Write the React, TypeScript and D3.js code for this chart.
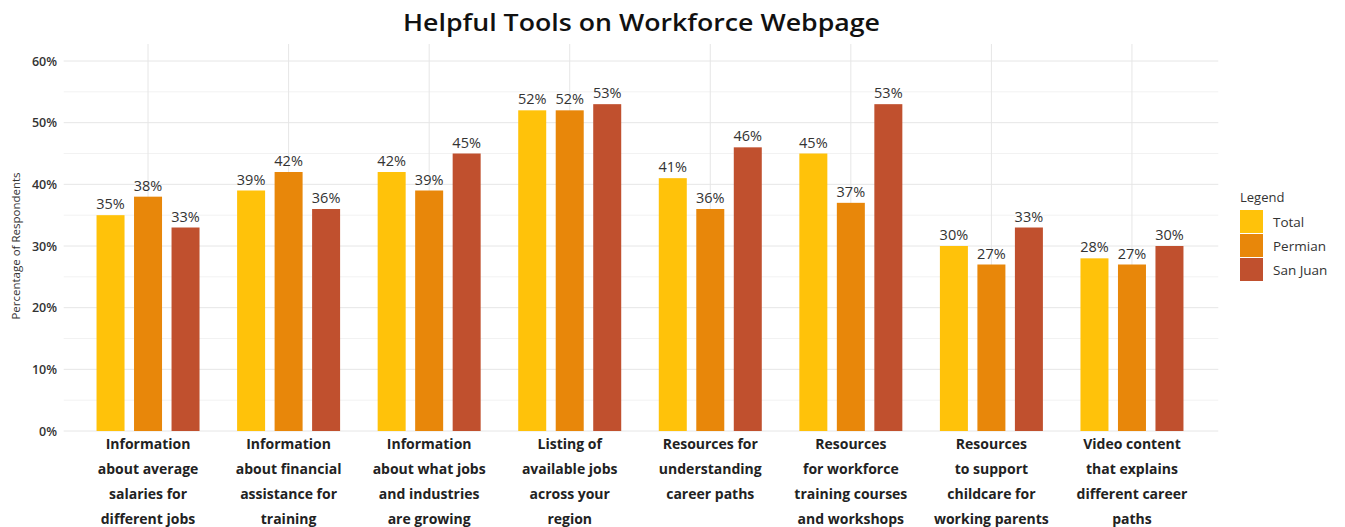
import React from "react";
import * as d3 from "d3";

const categories: string[][] = [
  ["Information", "about average", "salaries for", "different jobs"],
  ["Information", "about financial", "assistance for", "training"],
  ["Information", "about what jobs", "and industries", "are growing"],
  ["Listing of", "available jobs", "across your", "region"],
  ["Resources for", "understanding", "career paths"],
  ["Resources", "for workforce", "training courses", "and workshops"],
  ["Resources", "to support", "childcare for", "working parents"],
  ["Video content", "that explains", "different career", "paths"],
];
const seriesNames = ["Total", "Permian", "San Juan"];
const totalValues = [35, 39, 42, 52, 41, 45, 30, 28];
const permianValues = [38, 42, 39, 52, 36, 37, 27, 27];
const sanJuanValues = [33, 36, 45, 53, 46, 53, 33, 30];
const seriesColors = ["#FFC20A", "#E8870A", "#C0502E"];
const yTicks = [0, 10, 20, 30, 40, 50, 60];
const yMinor = [5, 15, 25, 35, 45, 55];

export default function App() {
  const W = 1345, H = 527;
  const left = 63.7, right = 1216.3, top = 44, bottom = 431;
  const series = [totalValues, permianValues, sanJuanValues];
  const idx = categories.map((_, i) => i);
  const x = d3.scaleLinear().domain([-0.6, categories.length - 0.4]).range([left, right]);
  const y = d3.scaleLinear().domain([0, 60]).range([bottom, 61]);
  const step = 37.5;
  const bw = 28;
  const font = "'Open Sans', 'DejaVu Sans', sans-serif";
  return (
    <svg width={W} height={H} style={{ position: "absolute", left: 0, top: 0, background: "#fff" }}>
      <text x={641.5} y={31} textAnchor="middle" fontFamily={font} fontWeight={600} fontSize={23} fill="#111"
        textLength={477} lengthAdjust="spacingAndGlyphs">
        Helpful Tools on Workforce Webpage
      </text>
      {yMinor.map((t) => (
        <line key={"m" + t} x1={left} x2={right + 2} y1={y(t)} y2={y(t)} stroke="#f2f2f2" strokeWidth={1} />
      ))}
      {yTicks.map((t) => (
        <line key={"g" + t} x1={left} x2={right + 2} y1={y(t)} y2={y(t)} stroke="#e6e6e6" strokeWidth={1} />
      ))}
      {idx.map((i) => (
        <line key={"v" + i} x1={x(i)} x2={x(i)} y1={top} y2={bottom} stroke="#e6e6e6" strokeWidth={1} />
      ))}
      {yTicks.map((t) => (
        <text key={"t" + t} x={57} y={y(t) + 4.5} textAnchor="end" fontFamily={font} fontWeight={600} fontSize={12.5} fill="#333">
          {t}%
        </text>
      ))}
      <text transform={`translate(20,${(bottom + 61) / 2}) rotate(-90)`} textAnchor="middle" fontFamily={font} fontSize={11.5} fill="#333">
        Percentage of Respondents
      </text>
      {idx.map((i) =>
        series.map((vals, s) => {
          const cx = x(i) + (s - 1) * step;
          return (
            <g key={i + "-" + s}>
              <rect x={cx - bw / 2} y={y(vals[i])} width={bw} height={y(0) - y(vals[i])} fill={seriesColors[s]} />
              <text x={cx} y={y(vals[i]) - 6} textAnchor="middle" fontFamily={font} fontSize={14.5} fill="#333">
                {vals[i]}%
              </text>
            </g>
          );
        })
      )}
      {idx.map((i) =>
        categories[i].map((line, j) => (
          <text key={"c" + i + j} x={x(i)} y={449 + j * 25} textAnchor="middle" fontFamily={font} fontWeight={700} fontSize={14} fill="#222">
            {line}
          </text>
        ))
      )}
      <text x={1240} y={202} fontFamily={font} fontSize={13} fill="#333">Legend</text>
      {seriesNames.map((n, s) => (
        <g key={"l" + s}>
          <rect x={1240} y={210 + s * 24} width={23} height={23} fill={seriesColors[s]} />
          <text x={1273} y={227 + s * 24} fontFamily={font} fontSize={13.5} fill="#333">{n}</text>
        </g>
      ))}
    </svg>
  );
}
